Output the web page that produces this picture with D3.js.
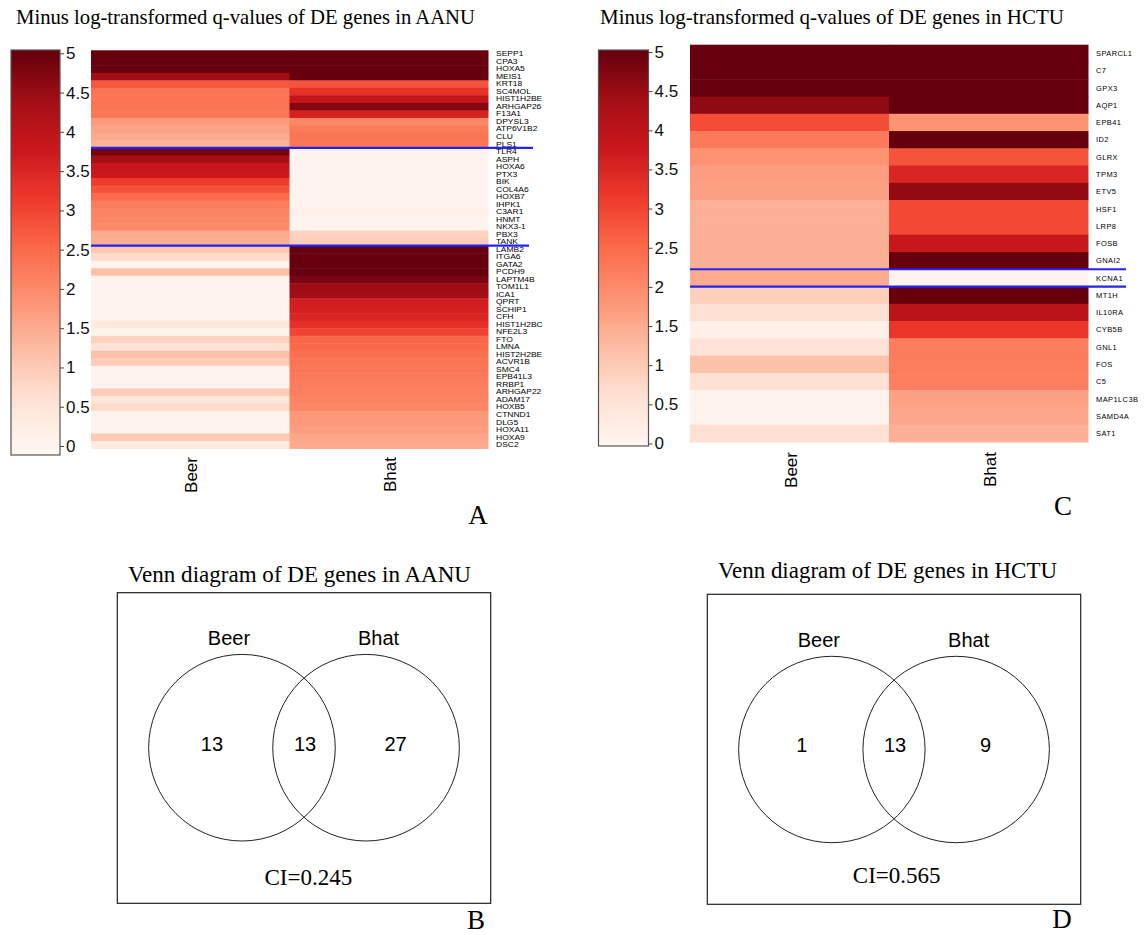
<!DOCTYPE html>
<html><head><meta charset="utf-8">
<script src="https://cdn.jsdelivr.net/npm/d3@7"></script>
<style>body{margin:0;background:#fff} svg{display:block}</style>
</head><body><svg id="chart" width="1146" height="935"></svg>
<script>
// ---------------- data ----------------
const methods = ["Beer", "Bhat"];
const colorTicks = [0, 0.5, 1, 1.5, 2, 2.5, 3, 3.5, 4, 4.5, 5];

const genesAANU = ["SEPP1","CPA3","HOXA5","MEIS1","KRT18","SC4MOL","HIST1H2BE","ARHGAP26","F13A1","DPYSL3","ATP6V1B2","CLU","PLS1",
  "TLR4","ASPH","HOXA6","PTX3","BIK","COL4A6","HOXB7","IHPK1","C3AR1","HNMT","NKX3-1","PBX3","TANK",
  "LAMB2","ITGA6","GATA2","PCDH9","LAPTM4B","TOM1L1","ICA1","QPRT","SCHIP1","CFH","HIST1H2BC","NFE2L3","FTO","LMNA","HIST2H2BE","ACVR1B","SMC4","EPB41L3","RRBP1","ARHGAP22","ADAM17","HOXB5","CTNND1","DLG5","HOXA11","HOXA9","DSC2"];
const beerAANU = [5,5,5,4.4,2.75,2.35,2.35,2.35,2.3,1.75,1.6,1.5,1.35,
  4.85,4.35,3.8,3.75,3.1,2.8,2.5,2.2,2.1,2.05,2.0,1.5,1.45,
  1.05,0.7,0.05,1.15,0.05,0.05,0.05,0.05,0.05,0.05,0.35,0.05,0.85,0.55,1.15,0.95,0.05,0.05,0.05,0.95,0.45,0.7,0.05,0.05,0.05,1.0,0.3];
const bhatAANU = [5,5,5,5,2.8,3.3,3.9,4.7,3.6,2.05,2.25,2.35,2.3,
  0.02,0.02,0.02,0.02,0.02,0.02,0.02,0.02,0.15,0.05,0.05,0.85,0.95,
  5,5,5,5,4.8,4.45,4.4,3.65,3.6,3.5,3.3,3.0,2.55,2.5,2.4,2.35,2.3,2.25,2.2,2.15,2.1,2.05,1.8,1.77,1.7,1.55,1.5];
const groupsAANU = [13, 13, 27]; // shared, Beer only, Bhat only

const genesHCTU = ["SPARCL1","C7","GPX3","AQP1","EPB41","ID2","GLRX","TPM3","ETV5","HSF1","LRP8","FOSB","GNAI2",
  "KCNA1","MT1H","IL10RA","CYB5B","GNL1","FOS","C5","MAP1LC3B","SAMD4A","SAT1"];
const beerHCTU = [5,5,5,4.6,2.9,2.25,1.85,1.7,1.65,1.4,1.4,1.4,1.4,
  1.5,0.9,0.6,0.15,0.55,1.15,0.6,0.05,0.05,0.6];
const bhatHCTU = [5,5,5,5,1.85,5,2.8,3.5,4.55,2.95,2.95,3.8,5,
  0.05,5,4.05,3.2,2.2,2.2,2.15,1.65,1.55,1.4];
const groupsHCTU = [13, 1, 9];

const vennAANU = [13, 13, 27];   // Beer only, both, Bhat only
const vennHCTU = [1, 13, 9];
const ciAANU = 0.245;
const ciHCTU = 0.565;

// ---------------- drawing ----------------
const svg = d3.select("#chart");
svg.append("rect").attr("width", 1146).attr("height", 935).attr("fill", "#fff");
const SANS = "'Liberation Sans', Arial, sans-serif";
const SERIF = "'Liberation Serif', 'Times New Roman', serif";

const reds = d3.schemeReds[9];
const color = d3.scaleLinear().domain(reds.map((c, i) => i * 5 / 8)).range(reds).clamp(true);

function heatmap(cfg, idx) {
  const g = svg.append("g");
  const y = d3.scaleBand().domain(cfg.genes).range([cfg.top, cfg.bottom]);
  const x = d3.scaleBand().domain(methods).range([cfg.left, cfg.right]);
  const cells = [];
  cfg.genes.forEach((gene, i) => {
    cells.push({gene, m: "Beer", v: cfg.beer[i]});
    cells.push({gene, m: "Bhat", v: cfg.bhat[i]});
  });
  g.append("g").selectAll("rect").data(cells).join("rect")
    .attr("x", d => x(d.m)).attr("y", d => y(d.gene))
    .attr("width", x.bandwidth() + 0.5).attr("height", y.bandwidth() + 0.5)
    .attr("fill", d => color(d.v));

  // gene labels: measured at the reference width, then drawn with a height that fits the row
  const labels = g.append("g").selectAll("text").data(cfg.genes).join("text")
    .attr("x", cfg.labelX).attr("y", d => y(d) + y.bandwidth() / 2)
    .attr("dy", "0.36em")
    .attr("font-family", SANS).attr("font-size", cfg.labelSize)
    .attr("letter-spacing", cfg.labelSpacing || 0)
    .attr("fill", "#000").text(d => d);
  if (cfg.fitSize) {
    labels.each(function () {
      const w = this.getComputedTextLength();
      d3.select(this).attr("font-size", cfg.fitSize)
        .attr("textLength", w).attr("lengthAdjust", "spacingAndGlyphs");
    });
  }

  // blue separator lines
  const b1 = cfg.groups[0], b2 = cfg.groups[0] + cfg.groups[1];
  const lines = [{y: y(cfg.genes[b1]), x2: cfg.lineEnd[0]}, {y: y(cfg.genes[b2]), x2: cfg.lineEnd[1]}];
  g.append("g").selectAll("line").data(lines).join("line")
    .attr("x1", cfg.left).attr("x2", d => d.x2)
    .attr("y1", d => d.y).attr("y2", d => d.y)
    .attr("stroke", "#2323f0").attr("stroke-width", 2.2);

  // column labels
  g.append("g").selectAll("text").data(methods).join("text")
    .attr("transform", d => `translate(${x(d) + x.bandwidth() / 2 + 1},${cfg.colLabelY}) rotate(-90)`)
    .attr("text-anchor", "end").attr("dy", "0.36em")
    .attr("font-family", SANS).attr("font-size", 17).text(d => d);

  // colour bar
  const cs = d3.scaleLinear().domain([0, 5]).range([cfg.tickBottom, cfg.tickTop]);
  const gid = "grad" + idx;
  const grad = svg.append("defs").append("linearGradient").attr("id", gid)
    .attr("gradientUnits", "userSpaceOnUse")
    .attr("x1", 0).attr("x2", 0).attr("y1", cs(0)).attr("y2", cs(5));
  d3.range(0, 5.001, 0.125).forEach(v => {
    grad.append("stop").attr("offset", v / 5).attr("stop-color", color(v));
  });
  g.append("rect").attr("x", cfg.cbX).attr("y", cfg.cbTop)
    .attr("width", cfg.cbW).attr("height", cfg.cbBottom - cfg.cbTop)
    .attr("fill", `url(#${gid})`).attr("stroke", "#555").attr("stroke-width", 1.2);
  const ax = g.append("g").attr("transform", `translate(${cfg.cbX + cfg.cbW},0)`)
    .call(d3.axisRight(cs).tickValues(colorTicks).tickSize(4).tickPadding(2).tickFormat(d3.format("~g")));
  ax.select(".domain").remove();
  ax.selectAll("line").attr("stroke", "#444");
  ax.selectAll("text").attr("font-family", SANS).attr("font-size", 17).attr("fill", "#111");

  // title and panel letter
  svg.append("text").attr("x", cfg.titleX).attr("y", 24)
    .attr("font-family", SERIF).attr("font-size", 21)
    .attr("textLength", cfg.titleLen).attr("lengthAdjust", "spacingAndGlyphs")
    .text(cfg.title);
  svg.append("text").attr("x", cfg.letter[1]).attr("y", cfg.letter[2]).attr("text-anchor", "middle")
    .attr("font-family", SERIF).attr("font-size", 27).text(cfg.letter[0]);
}

heatmap({
  genes: genesAANU, beer: beerAANU, bhat: bhatAANU, groups: groupsAANU,
  top: 50.3, bottom: 448.5, left: 91, right: 488,
  labelX: 496, labelSize: 8.5, fitSize: 6.4, lineEnd: [533, 529],
  colLabelY: 457,
  cbX: 11, cbW: 49, cbTop: 50, cbBottom: 455, tickTop: 53.3, tickBottom: 446,
  title: "Minus log-transformed q-values of DE genes in AANU", titleX: 16, titleLen: 459,
  letter: ["A", 478, 524]
}, 0);

heatmap({
  genes: genesHCTU, beer: beerHCTU, bhat: bhatHCTU, groups: groupsHCTU,
  top: 44.7, bottom: 442, left: 690, right: 1088,
  labelX: 1096, labelSize: 7.5, labelSpacing: 0.4, lineEnd: [1126, 1126],
  colLabelY: 452,
  cbX: 598.5, cbW: 50, cbTop: 50, cbBottom: 446, tickTop: 52, tickBottom: 443.5,
  title: "Minus log-transformed q-values of DE genes in HCTU", titleX: 600, titleLen: 464,
  letter: ["C", 1063, 515]
}, 1);

function venn(cfg) {
  const g = svg.append("g");
  const [bx0, by0, bx1, by1] = cfg.box;
  const mid = (bx0 + bx1) / 2;
  g.append("rect").attr("x", bx0).attr("y", by0).attr("width", bx1 - bx0).attr("height", by1 - by0)
    .attr("fill", "none").attr("stroke", "#222").attr("stroke-width", 1.2);
  const cx = d3.scalePoint().domain(methods).range([mid - cfg.sep / 2, mid + cfg.sep / 2]);
  g.selectAll("circle").data(methods).join("circle")
    .attr("cx", d => cx(d)).attr("cy", cfg.cy).attr("r", cfg.r)
    .attr("fill", "none").attr("stroke", "#222").attr("stroke-width", 1);
  g.selectAll("text.name").data(methods).join("text").attr("class", "name")
    .attr("x", (d, i) => cx(d) + (i === 0 ? -13 : 12.5)).attr("y", cfg.nameY)
    .attr("text-anchor", "middle").attr("font-family", SANS).attr("font-size", 20).text(d => d);
  const regionX = [cx("Beer") - 30, mid + 1, cx("Bhat") + 29.5];
  g.selectAll("text.count").data(cfg.counts).join("text").attr("class", "count")
    .attr("x", (d, i) => regionX[i]).attr("y", cfg.countY)
    .attr("text-anchor", "middle").attr("font-family", SANS).attr("font-size", 20).text(d => d);
  g.append("text").attr("x", cfg.ciX).attr("y", cfg.ciY).attr("text-anchor", "middle")
    .attr("font-family", SERIF).attr("font-size", 23).text("CI=" + cfg.ci);
  g.append("text").attr("x", bx0 + 10.7).attr("y", cfg.titleY)
    .attr("font-family", SERIF).attr("font-size", 23)
    .attr("textLength", cfg.titleLen).attr("lengthAdjust", "spacingAndGlyphs").text(cfg.title);
  g.append("text").attr("x", cfg.letter[1]).attr("y", cfg.letter[2]).attr("text-anchor", "middle")
    .attr("font-family", SERIF).attr("font-size", 27).text(cfg.letter[0]);
}

venn({
  box: [117.3, 592.7, 490.7, 903.3], cy: 747.7, r: 93.3, sep: 124.1,
  nameY: 645, countY: 751, counts: vennAANU, ci: ciAANU, ciX: 308.3, ciY: 885,
  title: "Venn diagram of DE genes in AANU", titleY: 581.5, titleLen: 343, letter: ["B", 476, 929]
});
venn({
  box: [707.3, 594.3, 1080.7, 904.3], cy: 749.5, r: 93.2, sep: 124.3,
  nameY: 646.7, countY: 752, counts: vennHCTU, ci: ciHCTU, ciX: 896.7, ciY: 883,
  title: "Venn diagram of DE genes in HCTU", titleY: 578.3, titleLen: 339, letter: ["D", 1062, 928]
});
</script></body></html>
